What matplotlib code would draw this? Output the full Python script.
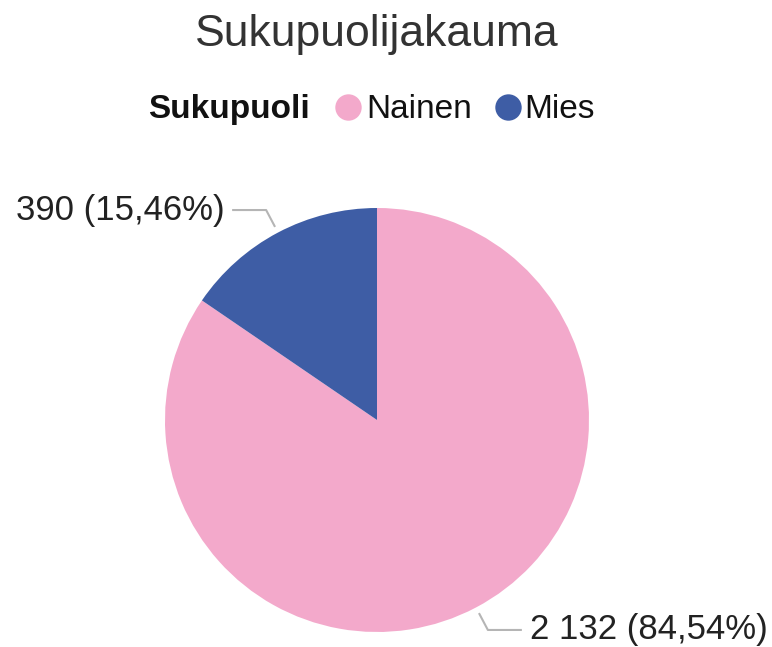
import numpy as np
import matplotlib
matplotlib.use("Agg")
import matplotlib.pyplot as plt

title = "Sukupuolijakauma"
legend_title = "Sukupuoli"
categories = ["Nainen", "Mies"]
counts = [2132, 390]
labels = ["2 132 (84,54%)", "390 (15,46%)"]
colors = ["#F3A9CB", "#3E5DA5"]

plt.rcParams["font.family"] = ["Liberation Sans", "DejaVu Sans"]

W, H = 772, 647
fig = plt.figure(figsize=(W / 100, H / 100), dpi=100)
ax = fig.add_axes([0, 0, 1, 1])

cx, cy, r = 377, H - 420, 212
wedges, _ = ax.pie(counts, colors=colors, startangle=90, counterclock=False,
                   center=(cx, cy), radius=r,
                   wedgeprops=dict(linewidth=0))
ax.set_xlim(0, W)
ax.set_ylim(0, H)
ax.set_aspect("equal")
ax.axis("off")

# leader lines + labels
for w, lab in zip(wedges, labels):
    mid = np.deg2rad((w.theta1 + w.theta2) / 2)
    ux, uy = np.cos(mid), np.sin(mid)
    p0 = (cx + 1.03 * r * ux, cy + 1.03 * r * uy)
    p1 = (cx + 1.12 * r * ux, cy + 1.12 * r * uy)
    side = 1 if ux > 0 else -1
    p2 = (p1[0] + side * 34, p1[1])
    ax.plot([p0[0], p1[0], p2[0]], [p0[1], p1[1], p2[1]],
            color="#b5b5b5", lw=1.5, solid_capstyle="butt")
    ax.text(p2[0] + side * 8, p2[1], lab, fontsize=25, color="#222222",
            ha="left" if side > 0 else "right", va="center")

# title
ax.text(377, H - 46, title, fontsize=32, color="#333333",
        ha="center", va="baseline")

# legend
ly = H - 118
ax.text(148, ly, legend_title, fontsize=24, fontweight="bold",
        color="#111111", ha="left", va="baseline")
marker_x = [348, 508]
text_x = [366, 524]
for mx, tx, cat, col in zip(marker_x, text_x, categories, colors):
    ax.plot([mx], [H - 107], "o", ms=19, color=col, mec="none")
    ax.text(tx, ly, cat, fontsize=24, color="#111111",
            ha="left", va="baseline")

fig.savefig("out.png", dpi=100)
